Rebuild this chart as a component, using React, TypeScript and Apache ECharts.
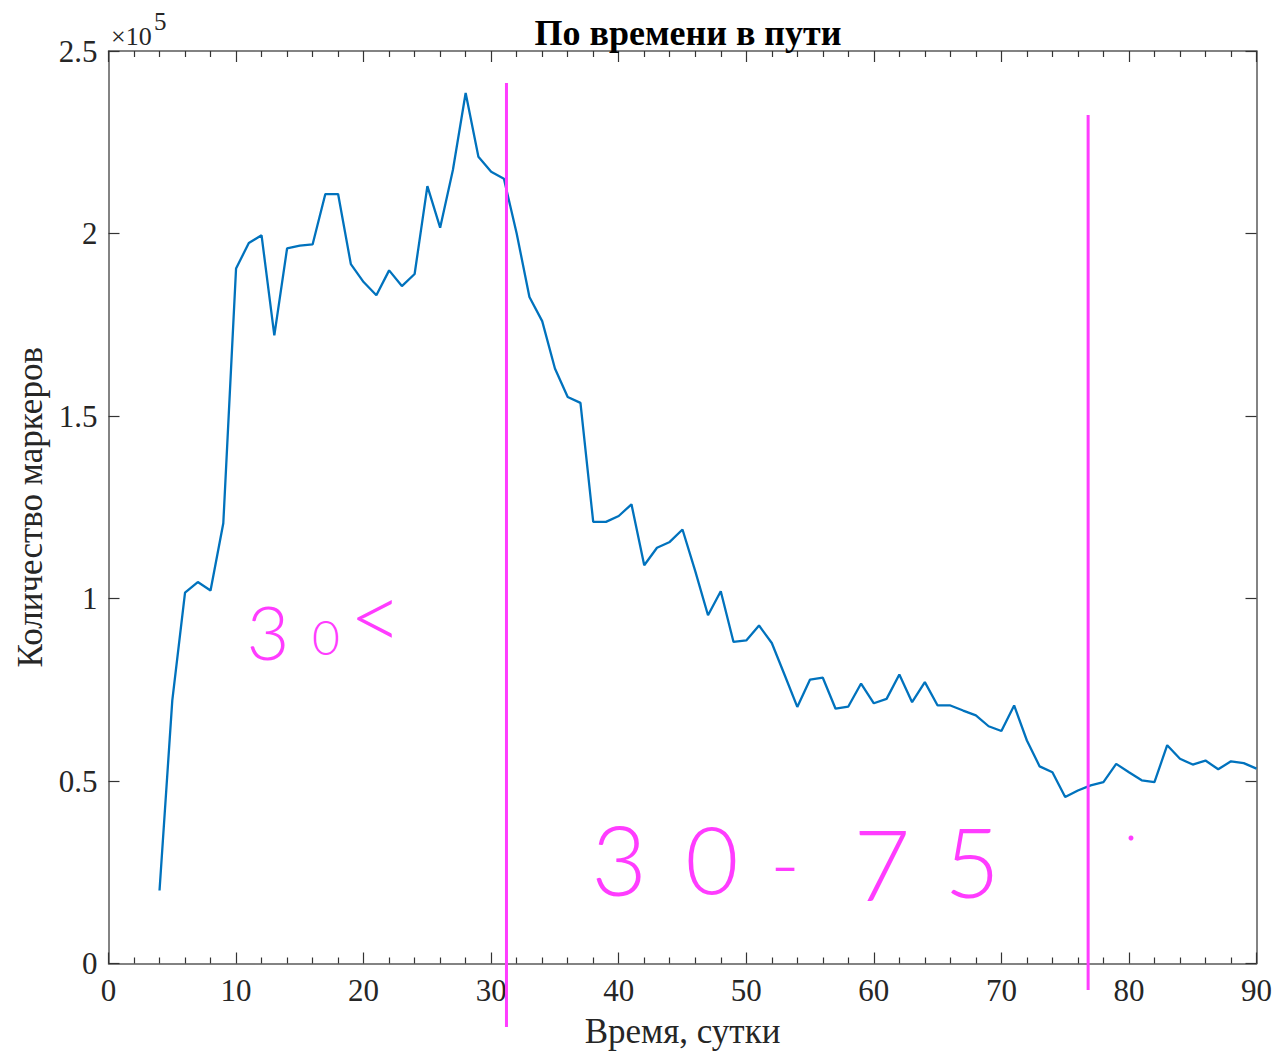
import React, { useEffect, useRef } from "react";
import * as echarts from "echarts";

const days = [
  4, 5, 6, 7, 8, 9, 10, 11, 12, 13, 14, 15, 16, 17, 18, 19, 20, 21, 22, 23, 24, 25, 26, 27, 28, 29,
  30, 31, 32, 33, 34, 35, 36, 37, 38, 39, 40, 41, 42, 43, 44, 45, 46, 47, 48, 49, 50, 51, 52, 53,
  54, 55, 56, 57, 58, 59, 60, 61, 62, 63, 64, 65, 66, 67, 68, 69, 70, 71, 72, 73, 74, 75, 76, 77,
  78, 79, 80, 81, 82, 83, 84, 85, 86, 87, 88, 89, 90,
];

const markerCounts = [
  20000, 72000, 101600, 104500, 102200, 120600, 190400, 197400, 199500, 172100, 195900, 196700,
  197000, 210800, 210800, 191600, 186700, 183100, 189900, 185600, 188900, 213000, 201600, 217400,
  238500, 221000, 216900, 215000, 200000, 182600, 176000, 163000, 155200, 153600, 121000, 121000,
  122600, 125800, 109100, 113900, 115500, 118900, 107500, 95400, 102000, 88100, 88500, 92600,
  87800, 79100, 70300, 77800, 78300, 69800, 70400, 76700, 71300, 72500, 79200, 71600, 77100,
  70700, 70700, 69300, 68000, 65000, 63700, 70700, 61100, 54000, 52400, 45600, 47400, 48800,
  49700, 54700, 52400, 50200, 49700, 59800, 56100, 54500, 55600, 53200, 55400, 54900, 53400,
];

// hand-drawn vertical divider lines (day positions)
const dividerDays = [31.2, 76.8];

const titleText = "По времени в пути";
const xName = "Время, сутки";
const yName = "Количество маркеров";

const SERIF = "'Liberation Serif', 'Times New Roman', serif";
const HAND = "Lato, 'DejaVu Sans', sans-serif";
const MAGENTA = "#ff3cff";
const AXIS = "#5a5a5a";
const TEXT = "#262626";

export default function App() {
  const ref = useRef<HTMLDivElement>(null);

  useEffect(() => {
    if (!ref.current) return;
    const chart = echarts.init(ref.current, undefined, { renderer: "svg" });

    const axisCommon = {
      type: "value" as const,
      axisLine: { show: true, onZero: false, lineStyle: { color: AXIS, width: 1.5 } },
      axisTick: { show: true, inside: true, length: 11, lineStyle: { color: "#333", width: 1.2 } },
      splitLine: { show: false },
    };

    const option: any = {
      animation: false,
      backgroundColor: "#ffffff",
      title: {
        text: titleText,
        left: 683,
        top: 10,
        textAlign: "center",
        textStyle: { fontFamily: SERIF, fontWeight: "bold", fontSize: 36, color: "#000" },
      },
      grid: { left: 108.5, right: 22.5, top: 51, bottom: 91.5, containLabel: false },
      xAxis: [
        {
          ...axisCommon,
          min: 0,
          max: 90,
          interval: 10,
          position: "bottom",
          minorTick: { show: true, splitNumber: 5, length: 6, lineStyle: { color: "#333", width: 1.2 } },
          axisLabel: { fontFamily: SERIF, fontSize: 31, color: TEXT, margin: 11 },
          name: xName,
          nameLocation: "middle",
          nameGap: 50,
          nameTextStyle: { fontFamily: SERIF, fontSize: 35, color: TEXT },
        },
        {
          ...axisCommon,
          min: 0,
          max: 90,
          interval: 10,
          position: "top",
          minorTick: { show: true, splitNumber: 5, length: 6, lineStyle: { color: "#333", width: 1.2 } },
          axisLabel: { show: false },
        },
      ],
      yAxis: [
        {
          ...axisCommon,
          min: 0,
          max: 250000,
          interval: 50000,
          position: "left",
          axisLabel: {
            fontFamily: SERIF,
            fontSize: 31,
            color: TEXT,
            margin: 11,
            formatter: (v: number) => String(Math.round(v / 1e4) / 10),
          },
          name: yName,
          nameLocation: "middle",
          nameGap: 54,
          nameTextStyle: { fontFamily: SERIF, fontSize: 35, color: TEXT },
        },
        {
          ...axisCommon,
          min: 0,
          max: 250000,
          interval: 50000,
          position: "right",
          axisLabel: { show: false },
        },
      ],
      series: [
        {
          type: "line",
          xAxisIndex: 0,
          yAxisIndex: 0,
          data: days.map((d, i) => [d, markerCounts[i]]),
          showSymbol: false,
          symbol: "none",
          lineStyle: { color: "#0072BD", width: 2.3 },
          z: 3,
        },
      ],
    };

    chart.setOption(option);

    // divider lines through data x positions, extended beyond the plot like the hand drawing
    const extents = [
      [83, 1027],
      [115, 990],
    ];
    const dividers = dividerDays.map((d, i) => {
      const p = chart.convertToPixel({ gridIndex: 0 }, [d, 0]) as number[];
      return {
        type: "line",
        shape: { x1: p[0], y1: extents[i][0], x2: p[0], y2: extents[i][1] },
        style: { stroke: MAGENTA, lineWidth: 3 },
        z: 10,
      };
    });

    const hand = (t: string, x: number, y: number, size: number) => ({
      type: "text",
      x,
      y,
      style: {
        text: t,
        fill: MAGENTA,
        fontFamily: HAND,
        fontWeight: 300,
        fontSize: size,
        textAlign: "center",
        textVerticalAlign: "middle",
      },
      z: 10,
    });

    chart.setOption({
      graphic: [
        {
          type: "text",
          x: 111,
          y: 36,
          style: {
            text: "×10",
            fill: TEXT,
            fontFamily: SERIF,
            fontSize: 26,
            textAlign: "left",
            textVerticalAlign: "middle",
          },
        },
        {
          type: "text",
          x: 154,
          y: 21,
          style: {
            text: "5",
            fill: TEXT,
            fontFamily: SERIF,
            fontSize: 25,
            textAlign: "left",
            textVerticalAlign: "middle",
          },
        },
        ...dividers,
        hand("3", 268, 631, 74),
        hand("0", 326, 636, 48),
        hand("<", 376, 614, 92),
        hand("3", 619, 858, 96),
        hand("0", 712, 858, 92),
        hand("-", 785, 862, 80),
        hand("7", 882, 863, 98),
        hand("5", 972, 860, 96),
        {
          type: "circle",
          shape: { cx: 1131, cy: 838, r: 2.5 },
          style: { fill: MAGENTA },
          z: 10,
        },
      ],
    });

    return () => chart.dispose();
  }, []);

  return (
    <div
      ref={ref}
      style={{ position: "absolute", left: 0, top: 0, width: 1279, height: 1055, background: "#fff" }}
    />
  );
}
